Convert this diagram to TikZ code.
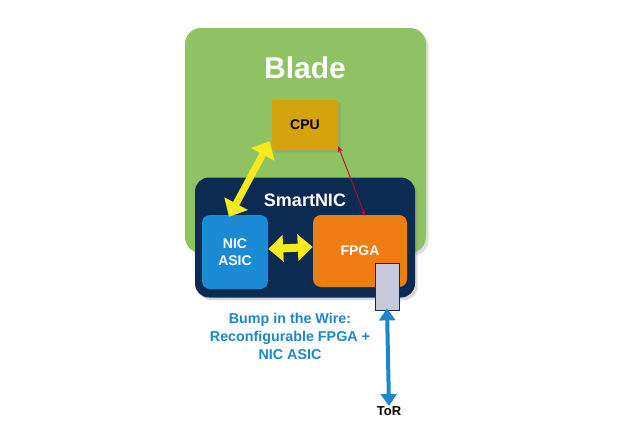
\documentclass[tikz,border=0pt]{standalone}
\usepackage{fontspec}
\setmainfont{Liberation Sans}
\usetikzlibrary{arrows.meta,shadows}
\definecolor{bladegreen}{HTML}{8FC262}
\definecolor{nicnavy}{HTML}{0C2B52}
\definecolor{asicblue}{HTML}{1C8BD5}
\definecolor{fpgaorange}{HTML}{EF7D13}
\definecolor{cpugold}{HTML}{D3A40B}
\definecolor{linkyellow}{HTML}{F4EA1C}
\definecolor{portgrey}{HTML}{C5C9DA}
\definecolor{textblue}{HTML}{1C87C9}
\definecolor{pcired}{HTML}{B0102A}
\tikzset{
  box/.style={rounded corners=8pt, minimum width=#1, inner sep=0pt, font=\bfseries\fontsize{14}{17}\selectfont, text=white, align=center},
  fatlink/.style={draw=linkyellow, line width=#1, {Triangle[length=15pt,width=26pt]}-{Triangle[length=15pt,width=26pt]}}
}
\begin{document}
\begin{tikzpicture}[x=1pt,y=-1pt]
	\useasboundingbox (0,0) rectangle (630,445);
	\node[box=241pt, minimum height=225pt, fill=bladegreen, rounded corners=16pt, drop shadow={opacity=0.25}] (blade) at (305.5,140.5) {};
	\node[font=\bfseries\fontsize{30}{34}\selectfont, text=white] (bladelbl) at (305,68) {Blade};
	\node[box=66pt, minimum height=50pt, fill=cpugold, rounded corners=2pt, text=black, drop shadow={opacity=0.3}] (cpu) at (305,125) {CPU};
	\node[box=220pt, minimum height=120pt, fill=nicnavy, rounded corners=14pt, drop shadow={opacity=0.3}] (smartnic) at (305,237.5) {};
	\node[font=\bfseries\fontsize{18}{21}\selectfont, text=white] (niclbl) at (305,200) {SmartNIC};
	\node[box=66pt, minimum height=74pt, fill=asicblue] (asic) at (235,252) {NIC\\ASIC};
	\node[box=94pt, minimum height=72pt, fill=fpgaorange] (fpga) at (360,251) {FPGA};
	\node[draw=nicnavy, line width=0.8pt, fill=portgrey, minimum width=24pt, minimum height=47pt, inner sep=0pt] (port) at (387,286.5) {};
	\node[font=\bfseries\fontsize{14.3}{18}\selectfont, text=textblue, align=center] (bump) at (290,336) {Bump in the Wire:\\Reconfigurable FPGA +\\NIC ASIC};
	\node[font=\bfseries\fontsize{13}{15}\selectfont] (tor) at (389,411) {ToR};
	% links
	\draw[fatlink=7pt] ([xshift=-2pt,yshift=9pt]cpu.south west) -- ([xshift=-6pt,yshift=-2pt]asic.north);
	\draw[fatlink=8pt] ([yshift=3pt]asic.east) -- ([yshift=4pt]fpga.west);
	\draw[pcired, line width=0.9pt, {Stealth[length=6pt,width=5pt]}-{Stealth[length=6pt,width=5pt]}] ([yshift=4pt]cpu.south east) -- ([xshift=5pt,yshift=-1pt]fpga.north);
	\draw[textblue, line width=4pt, {Triangle[length=12pt,width=16pt]}-{Triangle[length=12pt,width=16pt]}] ([yshift=2pt]port.south) -- ([yshift=-3pt]tor.north);
\end{tikzpicture}
\end{document}
